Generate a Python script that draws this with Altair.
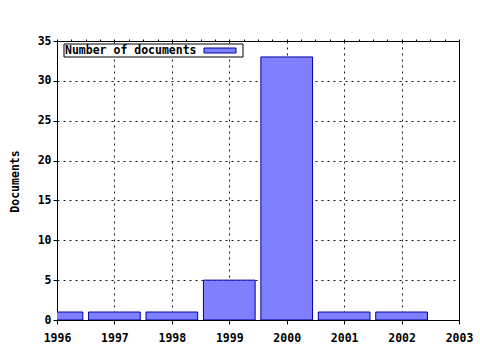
import altair as alt
import pandas as pd

# ---- data ----
years = [1996, 1997, 1998, 1999, 2000, 2001, 2002]
documents = [1, 1, 1, 5, 33, 1, 1]
series_name = "Number of documents"
y_title = "Documents"

# tick positions (major = whole years, minor = quarter years)
x_ticks = [1996, 1996.25, 1996.5, 1996.75, 1997, 1997.25, 1997.5, 1997.75,
           1998, 1998.25, 1998.5, 1998.75, 1999, 1999.25, 1999.5, 1999.75,
           2000, 2000.25, 2000.5, 2000.75, 2001, 2001.25, 2001.5, 2001.75,
           2002, 2002.25, 2002.5, 2002.75, 2003]
y_ticks = [0, 5, 10, 15, 20, 25, 30, 35]

FONT = "DejaVu Sans Mono"
FILL = "#8080ff"
EDGE = "#0000aa"

df = pd.DataFrame({"year": years, "documents": documents})
legend_df = pd.DataFrame({"label": [series_name]})

x_scale = alt.Scale(domain=[1996, 2003], nice=False, zero=False, padding=0)
y_scale = alt.Scale(domain=[0, 35], nice=False, padding=0)

is_major = "datum.value % 1 === 0"

y_enc = alt.Y(
    "documents:Q",
    scale=y_scale,
    axis=alt.Axis(
        values=y_ticks, title=y_title, domain=False,
        tickSize=4, tickColor="black", labelPadding=2,
        labelFont=FONT, labelFontWeight="bold", labelFontSize=11.5, labelColor="black",
        titleFont=FONT, titleFontWeight="bold", titleFontSize=11.5, titleColor="black",
        titleX=-39, titleY=140, titleBaseline="alphabetic", titleAlign="center", titleAngle=270,
        grid=True, gridColor="black", gridDash=[2, 4], gridOpacity=0.9,
    ),
)

base = alt.Chart(df).transform_calculate(
    start="datum.year - 0.45", end="datum.year + 0.45"
)

bars = base.mark_bar(clip=True, fill=FILL, stroke=EDGE, strokeWidth=1).encode(
    x=alt.X(
        "start:Q",
        scale=x_scale,
        axis=alt.Axis(
            orient="bottom", values=x_ticks, title="", format="d", domain=False,
            labelExpr=f"{is_major} ? datum.label : ''",
            labelFlush=False, labelOverlap=False, labelBound=False,
            tickColor="black",
            tickSize={"condition": {"test": is_major, "value": 4}, "value": 2},
            labelPadding=8,
            labelFont=FONT, labelFontWeight="bold", labelFontSize=11.5, labelColor="black",
            grid=True, gridColor="black", gridDash=[2, 4],
            gridOpacity={"condition": {"test": is_major, "value": 0.9}, "value": 0},
        ),
    ),
    x2="end:Q",
    y=y_enc,
    y2=alt.datum(0),
)

top_ticks = base.mark_bar(clip=True, opacity=0).encode(
    x=alt.X(
        "start:Q",
        scale=x_scale,
        axis=alt.Axis(
            orient="top", values=x_ticks, title="", labels=False, domain=False,
            tickSize=2, tickColor="black", grid=False,
        ),
    ),
    x2="end:Q",
    y=y_enc,
    y2=alt.datum(0),
)

legend_box = alt.Chart(legend_df).mark_rect(fill="white", stroke="black", strokeWidth=1).encode(
    x=alt.value(7), x2=alt.value(186), y=alt.value(3), y2=alt.value(16)
)
legend_text = alt.Chart(legend_df).mark_text(
    align="left", baseline="middle", font=FONT, fontWeight="bold", fontSize=11.5, color="black"
).encode(x=alt.value(8), y=alt.value(9.5), text="label:N")
legend_swatch = alt.Chart(legend_df).mark_rect(fill=FILL, stroke=EDGE, strokeWidth=1).encode(
    x=alt.value(147), x2=alt.value(179), y=alt.value(7), y2=alt.value(12)
)

chart = (
    alt.layer(bars, top_ticks, legend_box, legend_text, legend_swatch)
    .resolve_axis(x="independent")
    .properties(
        width=402, height=279,
        autosize=alt.AutoSizeParams(type="none"),
        padding={"left": 57, "top": 41, "right": 21, "bottom": 30},
        background="white",
    )
    .configure_view(stroke="black", strokeWidth=1)
)

chart.save("out.html", embed_options={"renderer": "svg", "actions": False})
